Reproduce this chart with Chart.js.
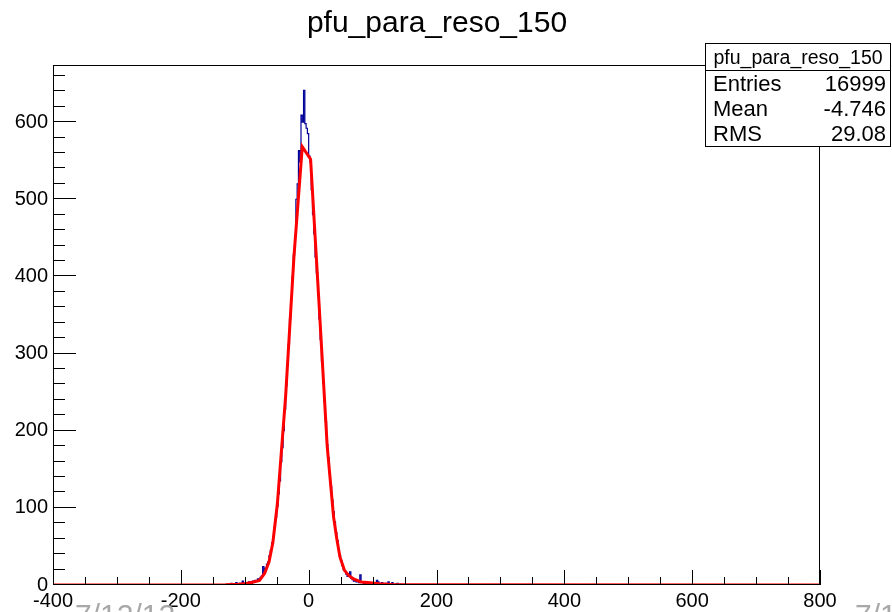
<!DOCTYPE html>
<html>
<head>
<meta charset="utf-8">
<script src="https://cdn.jsdelivr.net/npm/chart.js@4/dist/chart.umd.min.js"></script>
<style>
  html, body { margin: 0; padding: 0; background: #fff; }
  canvas { display: block; }
</style>
</head>
<body>
<canvas id="c" width="892" height="612"></canvas>
<script>
// histogram binning: 600 bins of width 2 between -400 and 800
var histMin = -400;
var histMax = 800;
var binWidth = 2;

// only the populated bins are listed, the first one starts at countsFrom
var countsFrom = -130;
var counts = [
  0, 1, 0, 0, 2, 1, 0, 1, 3, 0,
  1, 2, 1, 5, 2, 1, 3, 2, 4, 3,
  2, 5, 4, 6, 5, 8, 7, 10, 12, 24,
  16, 22, 27, 30, 38, 45, 55, 63, 75, 88,
  102, 118, 135, 160, 178, 200, 228, 258, 285, 312,
  345, 372, 400, 428, 452, 500, 520, 563, 548, 609,
  600, 641, 598, 592, 585, 556, 548, 512, 480, 455,
  425, 405, 375, 345, 318, 290, 262, 238, 212, 182,
  165, 145, 128, 110, 95, 82, 68, 58, 46, 38,
  32, 25, 20, 18, 14, 11, 12, 17, 9, 7,
  5, 6, 4, 5, 3, 13, 4, 3, 2, 4,
  2, 1, 3, 2, 1, 2, 1, 3, 6, 4,
  2, 1, 3, 1, 0, 2, 1, 4, 1, 0,
  3, 1, 0, 1, 2, 0, 1, 0, 1, 0
];

// fitted curve
var fitX = [-400, -130, -110, -98, -88, -77, -69, -62, -56, -49, -36, -23, -10, 3, 16, 29, 39, 44, 49, 56, 63, 70, 82, 96, 110, 130, 160, 800];
var fitY = [0, 0.3, 1, 2, 3.5, 6, 15, 30, 55, 105, 245, 426, 568, 552, 368, 180, 88, 60, 36, 19, 12, 8, 4, 3, 1.5, 0.6, 0.2, 0];

var xTickValues = [-400, -200, 0, 200, 400, 600, 800];
var yTickValues = [0, 100, 200, 300, 400, 500, 600];
var yMax = 674;

var histTitle = 'pfu_para_reso_150';
var statsNames = ['Entries', 'Mean', 'RMS'];
var statsValues = ['16999', '-4.746', '29.08'];
var dateText = '7/12/12';

var FONT = '"Liberation Sans", Arial, Helvetica, sans-serif';

function histPoints() {
  var pts = [];
  var n = Math.round((histMax - histMin) / binWidth);
  var v = 0;
  for (var i = 0; i < n; i++) {
    var lo = histMin + i * binWidth;
    var k = Math.round((lo - countsFrom) / binWidth);
    v = (k >= 0 && k < counts.length) ? counts[k] : 0;
    pts.push({ x: lo, y: v });
  }
  pts.push({ x: histMax, y: v });
  return pts;
}

function fitPoints() {
  return fitX.map(function (x, i) { return { x: x, y: fitY[i] }; });
}

var rootStyle = {
  id: 'rootStyle',
  afterDraw: function (chart) {
    var ctx = chart.ctx, a = chart.chartArea;
    var xs = chart.scales.x, ys = chart.scales.y;
    ctx.save();
    ctx.strokeStyle = '#000';
    ctx.lineWidth = 1;

    // frame
    ctx.strokeRect(a.left + 0.5, a.top + 0.5, a.right - a.left - 1, a.bottom - a.top - 1);

    // ticks inside the frame
    ctx.beginPath();
    for (var v = 0; v <= ys.max; v += 20) {
      var py = Math.round(ys.getPixelForValue(v)) - 0.5;
      var len = (v % 100 === 0) ? 23 : 12;
      ctx.moveTo(a.left, py);
      ctx.lineTo(a.left + len, py);
    }
    for (var w = histMin; w <= histMax; w += 50) {
      var px = Math.round(xs.getPixelForValue(w)) + 0.5;
      var l2 = (w % 200 === 0) ? 15 : 8;
      ctx.moveTo(px, a.bottom);
      ctx.lineTo(px, a.bottom - l2);
    }
    ctx.stroke();

    // title
    ctx.fillStyle = '#000';
    ctx.font = '30px ' + FONT;
    ctx.textAlign = 'center';
    ctx.textBaseline = 'alphabetic';
    ctx.fillText(histTitle, 437, 32);

    // stats box
    var bx = 705.5, by = 43.5, bw = 185, bh = 103;
    ctx.fillStyle = '#fff';
    ctx.fillRect(bx, by, bw, bh);
    ctx.strokeRect(bx, by, bw, bh);
    ctx.beginPath();
    ctx.moveTo(bx, 70.5);
    ctx.lineTo(bx + bw, 70.5);
    ctx.stroke();
    ctx.fillStyle = '#000';
    ctx.font = '19.5px ' + FONT;
    ctx.fillText(histTitle, bx + bw / 2, 64);
    ctx.font = '22px ' + FONT;
    for (var r = 0; r < statsNames.length; r++) {
      var base = 91 + r * 25;
      ctx.textAlign = 'left';
      ctx.fillText(statsNames[r], 713, base);
      ctx.textAlign = 'right';
      ctx.fillText(statsValues[r], 886, base);
    }

    // faded date stamp, mostly below the page edge
    ctx.fillStyle = '#a8a8a8';
    ctx.font = '30px ' + FONT;
    ctx.textAlign = 'left';
    ctx.fillText(dateText, 75, 625);
    ctx.fillText(dateText, 855, 625);
    ctx.restore();
  }
};

new Chart(document.getElementById('c'), {
  type: 'line',
  data: {
    datasets: [
      {
        data: fitPoints(),
        borderColor: '#ff0000',
        borderWidth: 3,
        pointRadius: 0,
        tension: 0,
        order: 0
      },
      {
        data: histPoints(),
        borderColor: '#000099',
        borderWidth: 1.2,
        pointRadius: 0,
        stepped: 'before',
        order: 1
      }
    ]
  },
  options: {
    responsive: false,
    animation: false,
    events: [],
    layout: { padding: { top: 65, right: 72, left: 0, bottom: 0 } },
    plugins: { legend: { display: false }, tooltip: { enabled: false }, title: { display: false } },
    scales: {
      x: {
        type: 'linear',
        min: histMin,
        max: histMax,
        grid: { display: false, drawTicks: false },
        border: { display: false },
        afterBuildTicks: function (s) { s.ticks = xTickValues.map(function (v) { return { value: v }; }); },
        afterFit: function (s) { s.height = 27; },
        ticks: {
          maxRotation: 0,
          autoSkip: false,
          padding: 4,
          color: '#000',
          font: { family: FONT, size: 20 }
        }
      },
      y: {
        min: 0,
        max: yMax,
        grid: { display: false, drawTicks: false },
        border: { display: false },
        afterBuildTicks: function (s) { s.ticks = yTickValues.map(function (v) { return { value: v }; }); },
        afterFit: function (s) { s.width = 53; },
        ticks: {
          padding: 5,
          color: '#000',
          font: { family: FONT, size: 20 }
        }
      }
    }
  },
  plugins: [rootStyle]
});
</script>
</body>
</html>
